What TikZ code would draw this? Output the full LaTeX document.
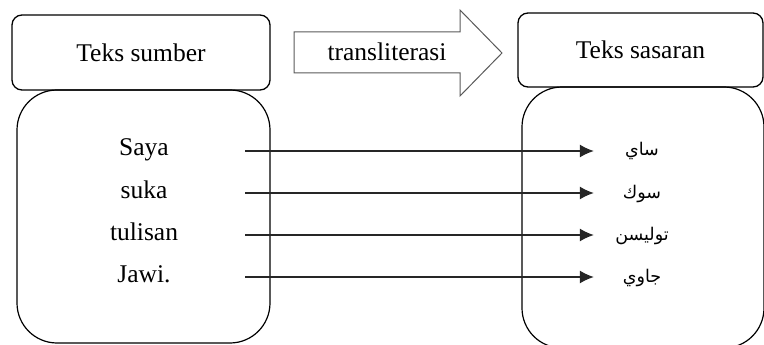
\documentclass[tikz,border=0pt]{standalone}
\usepackage{fontspec}
\setmainfont{Liberation Serif}
\newfontfamily\arabicfont[Script=Arabic]{DejaVu Sans}
\TeXXeTstate=1
\usetikzlibrary{arrows.meta}
\begin{document}
\begin{tikzpicture}[x=1pt,y=-1pt,
  headbox/.style={draw=black, line width=1.3pt, rounded corners=10pt, inner sep=0pt,
    font=\fontsize{25.5}{30}\selectfont},
  bodybox/.style={draw=black, line width=1.2pt, rounded corners=40pt, inner sep=0pt},
  blockarrow/.style={draw=black!65, line width=1pt, line join=miter},
  word/.style={inner sep=0pt, minimum width=202pt, text height=16pt, text depth=6pt,
    font=\fontsize{25.5}{30}\selectfont},
  jawi/.style={inner sep=0pt, minimum width=96pt, text height=16pt, text depth=6pt,
    font=\arabicfont\fontsize{17.5}{21}\selectfont},
  link/.style={draw=black!85, line width=1.2pt, -{Latex[length=14pt,width=13pt]}}]
\useasboundingbox (0,0) rectangle (764,345);

% source and target panels
\node[bodybox, minimum width=253pt, minimum height=253pt] (srcbody) at (143.5,216.5) {};
\node[bodybox, minimum width=242pt, minimum height=261pt] (tgtbody) at (643,217.5) {};
\node[headbox, minimum width=258pt, minimum height=75pt] (srchead) at (141,52.5) {Teks sumber};
\node[headbox, minimum width=245pt, minimum height=74pt] (tgthead) at (640.5,50) {Teks sasaran};

% block arrow with its label
\draw[blockarrow] (294,32) -- (460,32) -- (460,10) -- (502,53) -- (460,96) -- (460,73) -- (294,73) -- cycle;
\node[inner sep=0pt, font=\fontsize{25.5}{30}\selectfont] (translit) at (387,52) {transliterasi};

% Latin words
\node[word] (w1) at (144,151) {Saya};
\node[word] (w2) at (144,193) {suka};
\node[word] (w3) at (144,235) {tulisan};
\node[word] (w4) at (144,277) {Jawi.};

% Jawi words
\node[jawi] (j1) at (642,151) {\beginR ساي\endR};
\node[jawi] (j2) at (642,193) {\beginR سوك\endR};
\node[jawi] (j3) at (642,235) {\beginR توليسن\endR};
\node[jawi] (j4) at (642,277) {\beginR جاوي\endR};

% word-to-word links
\draw[link] (w1.east) -- (j1.west);
\draw[link] (w2.east) -- (j2.west);
\draw[link] (w3.east) -- (j3.west);
\draw[link] (w4.east) -- (j4.west);
\end{tikzpicture}
\end{document}
